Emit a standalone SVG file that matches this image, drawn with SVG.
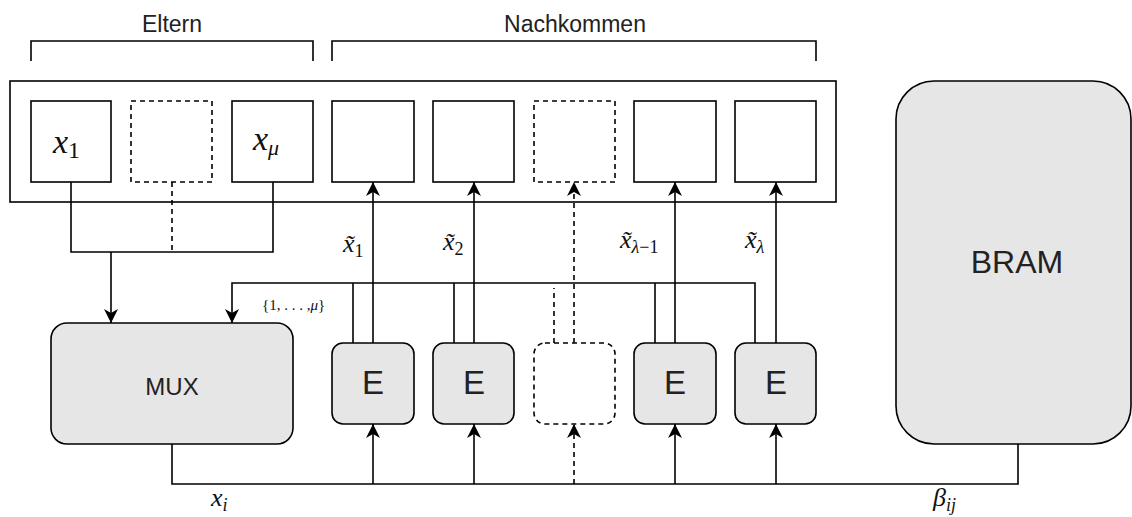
<svg xmlns="http://www.w3.org/2000/svg" width="1132" height="517" viewBox="0 0 1132 517">
  <style>
    .ln { fill: none; stroke: #000; stroke-width: 1.6; }
    .dash { stroke-dasharray: 5 4; }
    .cell { fill: #fff; stroke: #000; stroke-width: 1.6; }
    .unit { fill: #e6e6e6; stroke: #000; stroke-width: 1.6; }
    .lbl { font-family: "Liberation Sans", Arial, sans-serif; fill: #222; text-anchor: middle; }
    .m { font-family: "Liberation Serif", "Times New Roman", serif; fill: #111; }
    .it { font-style: italic; }
  </style>
  <defs>
    <marker id="arr" markerUnits="userSpaceOnUse" viewBox="0 0 14 14" markerWidth="14" markerHeight="14" refX="14" refY="7" orient="auto">
      <path d="M0,0 L14,7 L0,14 L4,7 Z" fill="#000" stroke="none"/>
    </marker>
  </defs>

  <!-- group brackets -->
  <g id="eltern">
    <text class="lbl" x="172" y="32" font-size="23">Eltern</text>
    <path class="ln" d="M31,61 V41 H313 V61"/>
  </g>
  <g id="nachkommen">
    <text class="lbl" x="575" y="32" font-size="23">Nachkommen</text>
    <path class="ln" d="M332,61 V41 H816 V61"/>
  </g>

  <!-- population register -->
  <g id="population">
    <rect class="cell" x="10" y="81" width="826" height="121"/>
  </g>
  <g id="parent1">
    <rect class="cell" x="31" y="101" width="80" height="81"/>
    <text class="m" x="53" y="153"><tspan class="it" font-size="34">x</tspan><tspan font-size="24" dy="5">1</tspan></text>
  </g>
  <g id="parentDots">
    <rect class="cell dash" x="131" y="101" width="81" height="81"/>
  </g>
  <g id="parentMu">
    <rect class="cell" x="232" y="101" width="81" height="81"/>
    <text class="m it" x="253" y="150"><tspan font-size="34">x</tspan><tspan font-size="22" dy="5">μ</tspan></text>
  </g>
  <g id="child1"><rect class="cell" x="332" y="101" width="82" height="81"/></g>
  <g id="child2"><rect class="cell" x="433" y="101" width="81" height="81"/></g>
  <g id="childDots"><rect class="cell dash" x="534" y="101" width="81" height="81"/></g>
  <g id="childLm1"><rect class="cell" x="634" y="101" width="82" height="81"/></g>
  <g id="childL"><rect class="cell" x="735" y="101" width="81" height="81"/></g>

  <!-- processing units -->
  <g id="mux">
    <rect class="unit" x="51" y="323" width="242" height="121" rx="16"/>
    <text class="lbl" x="172" y="395" font-size="24">MUX</text>
  </g>
  <g id="e1">
    <rect class="unit" x="332" y="343" width="82" height="81" rx="11"/>
    <text class="lbl" x="373" y="394" font-size="33">E</text>
  </g>
  <g id="e2">
    <rect class="unit" x="433" y="343" width="81" height="81" rx="11"/>
    <text class="lbl" x="474" y="394" font-size="33">E</text>
  </g>
  <g id="eDots">
    <rect class="cell dash" x="534" y="343" width="81" height="81" rx="11"/>
  </g>
  <g id="eLm1">
    <rect class="unit" x="634" y="343" width="82" height="81" rx="11"/>
    <text class="lbl" x="675" y="394" font-size="33">E</text>
  </g>
  <g id="eL">
    <rect class="unit" x="735" y="343" width="81" height="81" rx="11"/>
    <text class="lbl" x="776" y="394" font-size="33">E</text>
  </g>
  <g id="bram">
    <rect class="unit" x="896" y="81" width="235" height="363" rx="38"/>
    <text class="lbl" x="1017" y="273" font-size="32">BRAM</text>
  </g>

  <!-- connectors -->
  <g id="connectors">
    <!-- parents to MUX -->
    <path class="ln" d="M71,182 V252 H273 V182"/>
    <path class="ln dash" d="M172,182 V252"/>
    <path class="ln" d="M111,252 V323" marker-end="url(#arr)"/>
    <!-- index feedback from evaluators to MUX -->
    <path class="ln" d="M755,343 V283 H232 V323" marker-end="url(#arr)"/>
    <path class="ln" d="M353,343 V283"/>
    <path class="ln" d="M454,343 V283"/>
    <path class="ln" d="M655,343 V283"/>
    <path class="ln dash" d="M554,343 V288"/>
    <!-- evaluator outputs to offspring -->
    <path class="ln" d="M373,343 V182" marker-end="url(#arr)"/>
    <path class="ln" d="M474,343 V182" marker-end="url(#arr)"/>
    <path class="ln dash" d="M574,343 V182" marker-end="url(#arr)"/>
    <path class="ln" d="M675,343 V182" marker-end="url(#arr)"/>
    <path class="ln" d="M776,343 V182" marker-end="url(#arr)"/>
    <!-- shared bus: MUX and BRAM into evaluators -->
    <path class="ln" d="M172,444 V484 H1018 V444"/>
    <path class="ln" d="M373,484 V424" marker-end="url(#arr)"/>
    <path class="ln" d="M474,484 V424" marker-end="url(#arr)"/>
    <path class="ln dash" d="M574,484 V424" marker-end="url(#arr)"/>
    <path class="ln" d="M675,484 V424" marker-end="url(#arr)"/>
    <path class="ln" d="M776,484 V424" marker-end="url(#arr)"/>
  </g>

  <!-- connector labels -->
  <g id="labels">
    <text class="m" x="343" y="252"><tspan class="it" font-size="26">x̃</tspan><tspan font-size="18" dy="5">1</tspan></text>
    <text class="m" x="443" y="250"><tspan class="it" font-size="26">x̃</tspan><tspan font-size="18" dy="5">2</tspan></text>
    <text class="m" x="620" y="248"><tspan class="it" font-size="26">x̃</tspan><tspan font-size="18" dy="5"><tspan class="it">λ</tspan>−1</tspan></text>
    <text class="m" x="745" y="248"><tspan class="it" font-size="26">x̃</tspan><tspan class="it" font-size="18" dy="5">λ</tspan></text>
    <text class="m" x="262" y="310" font-size="15">{1, . . . ,<tspan class="it">μ</tspan>}</text>
    <text class="m it" x="211" y="506"><tspan font-size="26">x</tspan><tspan font-size="18" dy="5">i</tspan></text>
    <text class="m it" x="933" y="506"><tspan font-size="26">β</tspan><tspan font-size="18" dy="5">ij</tspan></text>
  </g>
</svg>
